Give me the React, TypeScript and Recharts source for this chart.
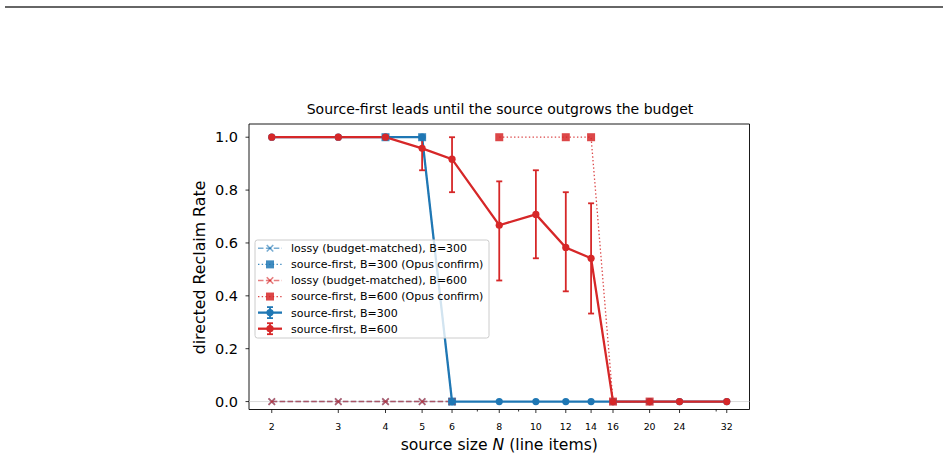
import React from 'react';
import { ComposedChart, Line, XAxis, YAxis, ErrorBar, ReferenceLine, ReferenceArea } from 'recharts';

// ---- data ----
const sizes = [2, 3, 4, 5, 6, 8, 10, 12, 14, 16, 20, 24, 32];
const sourceFirst300 = [1, 1, 1, 1, 0, 0, 0, 0, 0, 0, 0, 0, 0];
const sourceFirst600 = [1, 1, 1, 0.958, 0.917, 0.667, 0.708, 0.583, 0.542, 0, 0, 0, 0];
const sf600Low = [null, null, null, 0.875, 0.792, 0.458, 0.542, 0.417, 0.333, null, null, null, null];
const sf600High = [null, null, null, 1.0, 1.0, 0.833, 0.875, 0.792, 0.75, null, null, null, null];
const lossy300 = [0, 0, 0, 0, 0, null, null, null, null, null, null, null, null];
const lossy600 = [0, 0, 0, 0, 0, null, null, null, null, null, null, null, null];
const opus300 = [null, null, 1, 1, 0, null, null, null, null, null, null, null, null];
const opus600 = [null, null, null, null, null, 1, null, 1, 1, 0, 0, null, null];

const majorTicks = [2, 3, 4, 5, 6, 8, 10, 12, 14, 16, 20, 24, 32];
const minorTicks = [7, 9, 30];
const yTicks = [0, 0.2, 0.4, 0.6, 0.8, 1.0];

const title = 'Source-first leads until the source outgrows the budget';
const yLabel = 'directed Reclaim Rate';
const legendLabels = [
  'lossy (budget-matched), B=300',
  'source-first, B=300 (Opus confirm)',
  'lossy (budget-matched), B=600',
  'source-first, B=600 (Opus confirm)',
  'source-first, B=300',
  'source-first, B=600',
];

const BLUE = '#1f77b4';
const RED = '#d62728';
const FONT = 'DejaVu Sans';

const xDomain: [number, number] = [1.7411, 36.758];
const yDomain: [number, number] = [-0.03, 1.05];

const data = sizes.map((n, i) => ({
  n,
  sf300: sourceFirst300[i],
  sf600: sourceFirst600[i],
  e600:
    sf600Low[i] == null
      ? null
      : [sourceFirst600[i] - (sf600Low[i] as number), (sf600High[i] as number) - sourceFirst600[i]],
  l300: lossy300[i],
  l600: lossy600[i],
  o300: opus300[i],
  o600: opus600[i],
}));

const allXTicks = [...majorTicks, ...minorTicks].sort((a, b) => a - b);

const XTick = (props: any) => {
  const { x, y, payload } = props;
  const v = payload.value;
  const major = majorTicks.includes(v);
  return (
    <g>
      <line x1={x} x2={x} y1={y} y2={y + (major ? 3.5 : 2)} stroke="#000" strokeWidth={0.8} />
      {major && (
        <text x={x} y={y + 20} textAnchor="middle" fontSize={9.4} fontFamily={FONT} fill="#000">
          {v}
        </text>
      )}
    </g>
  );
};

const makeCircle = (color: string, r: number) => (props: any) => {
  const { cx, cy, value, index } = props;
  if (value == null || cx == null || cy == null) return <g key={`c${index}`} />;
  return <circle key={`c${index}`} cx={cx} cy={cy} r={r} fill={color} stroke="none" />;
};

const makeSquare = (color: string, s: number, opacity: number) => (props: any) => {
  const { cx, cy, value, index } = props;
  if (value == null || cx == null || cy == null) return <g key={`s${index}`} />;
  return (
    <rect key={`s${index}`} x={cx - s / 2} y={cy - s / 2} width={s} height={s} fill={color} fillOpacity={opacity} stroke="none" />
  );
};

const makeX = (color: string, s: number, opacity: number) => (props: any) => {
  const { cx, cy, value, index } = props;
  if (value == null || cx == null || cy == null) return <g key={`x${index}`} />;
  const h = s / 2;
  return (
    <g key={`x${index}`} stroke={color} strokeOpacity={opacity} strokeWidth={1.6}>
      <line x1={cx - h} y1={cy - h} x2={cx + h} y2={cy + h} />
      <line x1={cx - h} y1={cy + h} x2={cx + h} y2={cy - h} />
    </g>
  );
};

const YLabel = () => (
  <text transform="rotate(-90)" x={-267.5} y={205} textAnchor="middle" fontSize={15.8} fontFamily={FONT} fill="#000">
    {yLabel}
  </text>
);

const XLabel = (props: any) => {
  const vb = props.viewBox || { x: 249, y: 409.5, width: 500 };
  return (
    <text x={vb.x + vb.width / 2} y={vb.y + 40} textAnchor="middle" fontSize={15.6} fontFamily={FONT} fill="#000">
      source size <tspan fontStyle="italic">N</tspan> (line items)
    </text>
  );
};

const DASH = '5.5 2.4';
const DOT = '1.4 2.3';

const LegendHandle = ({ i, cy }: { i: number; cy: number }) => {
  const x0 = 258;
  const x1 = 282;
  const cx = 270;
  if (i === 0 || i === 2) {
    const c = i === 0 ? BLUE : RED;
    return (
      <g>
        <line x1={x0} x2={x1} y1={cy} y2={cy} stroke={c} strokeOpacity={0.6} strokeWidth={1.5} strokeDasharray={DASH} />
        {makeX(c, 6.5, 0.6)({ cx, cy, value: 0, index: i })}
      </g>
    );
  }
  if (i === 1 || i === 3) {
    const c = i === 1 ? BLUE : RED;
    return (
      <g>
        <line x1={x0} x2={x1} y1={cy} y2={cy} stroke={c} strokeOpacity={0.85} strokeWidth={1.3} strokeDasharray={DOT} />
        {makeSquare(c, 8, 0.85)({ cx, cy, value: 0, index: i })}
      </g>
    );
  }
  const c = i === 4 ? BLUE : RED;
  return (
    <g>
      <line x1={x0} x2={x1} y1={cy} y2={cy} stroke={c} strokeWidth={2.3} />
      <line x1={cx} x2={cx} y1={cy - 5.5} y2={cy + 5.5} stroke={c} strokeWidth={1.8} />
      <line x1={cx - 3} x2={cx + 3} y1={cy - 5.5} y2={cy - 5.5} stroke={c} strokeWidth={1.8} />
      <line x1={cx - 3} x2={cx + 3} y1={cy + 5.5} y2={cy + 5.5} stroke={c} strokeWidth={1.8} />
      <circle cx={cx} cy={cy} r={3.6} fill={c} />
    </g>
  );
};

export default function App() {
  return (
    <div style={{ position: 'absolute', left: 0, top: 0, width: 948, height: 458, background: '#fff' }}>
      <ComposedChart
        width={948}
        height={458}
        data={data}
        margin={{ top: 124, right: 198.5, bottom: 0, left: 0 }}
      >
        <XAxis
          dataKey="n"
          type="number"
          scale="log"
          domain={xDomain}
          allowDataOverflow
          ticks={allXTicks}
          interval={0}
          tick={<XTick />}
          tickSize={0}
          tickMargin={0}
          tickLine={false}
          axisLine={false}
          height={48.5}
          label={<XLabel />}
        />
        <YAxis
          type="number"
          domain={yDomain}
          allowDataOverflow
          ticks={yTicks}
          interval={0}
          width={249}
          tickSize={3.5}
          tickMargin={7.5}
          tickLine={{ stroke: '#000', strokeWidth: 0.8 }}
          axisLine={false}
          tick={{ fill: '#000', fontSize: 14.5, fontFamily: FONT }}
          tickFormatter={(v: number) => v.toFixed(1)}
          label={<YLabel />}
        />
        <ReferenceLine y={0} stroke="#d0d0d0" strokeWidth={0.8} />
        <Line
          dataKey="l300"
          type="linear"
          stroke={BLUE}
          strokeOpacity={0.6}
          strokeWidth={1.5}
          strokeDasharray={DASH}
          dot={makeX(BLUE, 6.5, 0.6)}
          activeDot={false}
          isAnimationActive={false}
        />
        <Line
          dataKey="o300"
          type="linear"
          connectNulls
          stroke={BLUE}
          strokeOpacity={0.85}
          strokeWidth={1.3}
          strokeDasharray={DOT}
          dot={makeSquare(BLUE, 8, 0.85)}
          activeDot={false}
          isAnimationActive={false}
        />
        <Line
          dataKey="l600"
          type="linear"
          stroke={RED}
          strokeOpacity={0.6}
          strokeWidth={1.5}
          strokeDasharray={DASH}
          dot={makeX(RED, 6.5, 0.6)}
          activeDot={false}
          isAnimationActive={false}
        />
        <Line
          dataKey="o600"
          type="linear"
          connectNulls
          stroke={RED}
          strokeOpacity={0.85}
          strokeWidth={1.3}
          strokeDasharray={DOT}
          dot={makeSquare(RED, 8, 0.85)}
          activeDot={false}
          isAnimationActive={false}
        />
        <Line
          dataKey="sf300"
          type="linear"
          stroke={BLUE}
          strokeWidth={2.3}
          dot={makeCircle(BLUE, 3.6)}
          activeDot={false}
          isAnimationActive={false}
        />
        <Line
          dataKey="sf600"
          type="linear"
          stroke={RED}
          strokeWidth={2.3}
          dot={makeCircle(RED, 3.6)}
          activeDot={false}
          isAnimationActive={false}
        >
          <ErrorBar dataKey="e600" width={3} stroke={RED} strokeWidth={1.8} direction="y" isAnimationActive={false} />
        </Line>
        <ReferenceArea
          x1={xDomain[0]}
          x2={xDomain[1]}
          y1={yDomain[0]}
          y2={yDomain[1]}
          fill="none"
          fillOpacity={0}
          stroke="#000"
          strokeWidth={0.9}
          strokeOpacity={1}
          ifOverflow="visible"
        />
      </ComposedChart>
      <svg
        width={948}
        height={458}
        style={{ position: 'absolute', left: 0, top: 0, pointerEvents: 'none' }}
      >
        <line x1={5} x2={943} y1={7} y2={7} stroke="#333" strokeWidth={1.3} />
        <text x={500} y={114} textAnchor="middle" fontSize={14} fontFamily={FONT} fill="#000">
          {title}
        </text>
        <rect x={255} y={240} width={234} height={98} rx={2.5} fill="#fff" fillOpacity={0.8} stroke="#cccccc" strokeWidth={1} />
        {legendLabels.map((lab, i) => {
          const cy = 248.3 + i * 16.08;
          return (
            <g key={lab}>
              <LegendHandle i={i} cy={cy} />
              <text x={291} y={cy + 3.9} fontSize={11} fontFamily={FONT} fill="#000">
                {lab}
              </text>
            </g>
          );
        })}
      </svg>
    </div>
  );
}
